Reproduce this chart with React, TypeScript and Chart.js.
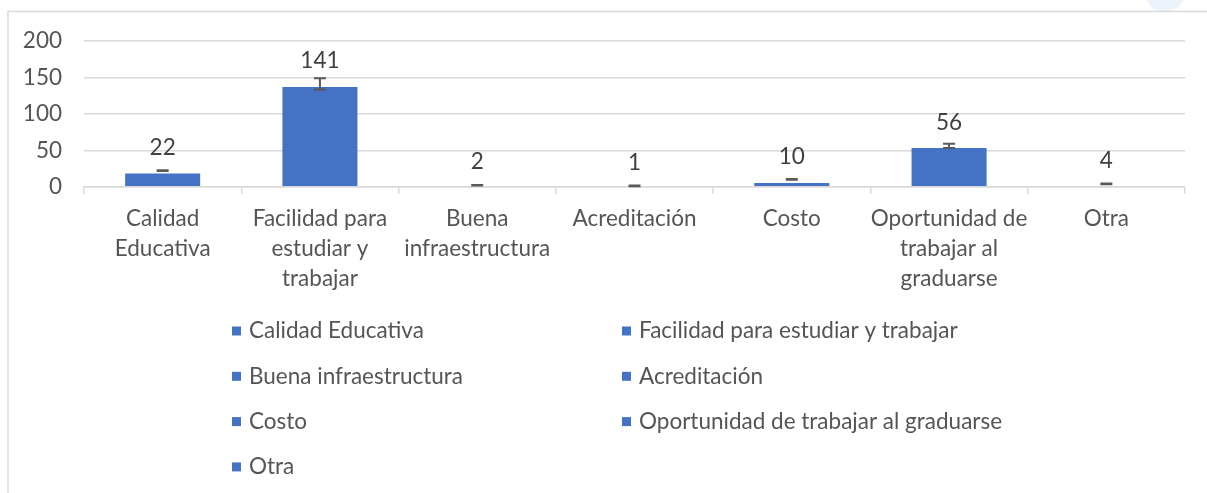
import React, { useEffect, useRef } from "react";
import { Chart, registerables } from "chart.js";

Chart.register(...registerables);

const categoryNames = [
  "Calidad Educativa",
  "Facilidad para estudiar y trabajar",
  "Buena infraestructura",
  "Acreditación",
  "Costo",
  "Oportunidad de trabajar al graduarse",
  "Otra",
];
const categoryLines = [
  ["Calidad", "Educativa"],
  ["Facilidad para", "estudiar y", "trabajar"],
  ["Buena", "infraestructura"],
  ["Acreditación"],
  ["Costo"],
  ["Oportunidad de", "trabajar al", "graduarse"],
  ["Otra"],
];
const barValues = [18, 137, 0, 0, 5, 53, 0];
const labelValues = [22, 141, 2, 1, 10, 56, 4];
const errorValues = [0.5, 8, 0.5, 0.5, 0.5, 3, 0.5];
const yTicks = [0, 50, 100, 150, 200];

const FONT = "Lato";
const FS = 22.5;
const BLUE = "#4472c4";
const GRID = "#d9d9d9";
const TXT = "#555555";

export default function App() {
  const ref = useRef<HTMLCanvasElement | null>(null);
  useEffect(() => {
    const canvas = ref.current!;
    const framePlugin = {
      id: "frame",
      beforeDraw(chart: any) {
        const ctx = chart.ctx;
        ctx.save();
        ctx.fillStyle = "#ffffff";
        ctx.fillRect(0, 0, chart.width, chart.height);
        ctx.fillStyle = "#edf3fb";
        ctx.beginPath();
        ctx.arc(1165, -8, 20, 0, Math.PI * 2);
        ctx.fill();
        ctx.strokeStyle = GRID;
        ctx.lineWidth = 1.5;
        ctx.beginPath();
        ctx.moveTo(8, chart.height);
        ctx.lineTo(8, 11.5);
        ctx.lineTo(chart.width, 11.5);
        ctx.stroke();
        ctx.restore();
      },
    };
    const extrasPlugin = {
      id: "extras",
      afterDatasetsDraw(chart: any) {
        const ctx = chart.ctx;
        const y = chart.scales.y;
        const meta = chart.getDatasetMeta(0);
        ctx.save();
        ctx.strokeStyle = "#595959";
        ctx.lineWidth = 2;
        labelValues.forEach((v, i) => {
          const x = meta.data[i].x;
          const yt = y.getPixelForValue(v + errorValues[i]);
          const yb = y.getPixelForValue(v - errorValues[i]);
          ctx.beginPath();
          ctx.moveTo(x, yt);
          ctx.lineTo(x, yb);
          ctx.moveTo(x - 6, yt);
          ctx.lineTo(x + 6, yt);
          ctx.moveTo(x - 6, yb);
          ctx.lineTo(x + 6, yb);
          ctx.stroke();
        });
        ctx.fillStyle = "#404040";
        ctx.font = `${FS}px ${FONT}`;
        ctx.textAlign = "center";
        ctx.textBaseline = "middle";
        labelValues.forEach((v, i) => {
          const x = meta.data[i].x;
          ctx.fillText(String(v), x, y.getPixelForValue(v) - 23);
        });
        ctx.restore();
      },
      afterDraw(chart: any) {
        const ctx = chart.ctx;
        ctx.save();
        ctx.font = `${FS}px ${FONT}`;
        ctx.textBaseline = "middle";
        ctx.textAlign = "left";
        const colX = [249, 639];
        categoryNames.forEach((name, i) => {
          const col = i % 2;
          const row = Math.floor(i / 2);
          const cy = 331 + row * 45.3;
          ctx.fillStyle = BLUE;
          ctx.fillRect(colX[col] - 17, cy - 4.5, 9, 9);
          ctx.fillStyle = TXT;
          ctx.fillText(name, colX[col], cy);
        });
        ctx.restore();
      },
    };
    const chart = new Chart(canvas, {
      type: "bar",
      data: {
        labels: categoryLines,
        datasets: [
          {
            data: barValues,
            backgroundColor: BLUE,
            borderWidth: 0,
            categoryPercentage: 1,
            barPercentage: 0.477,
          },
        ],
      },
      options: {
        responsive: false,
        animation: false,
        devicePixelRatio: 1,
        layout: { padding: { left: 0, right: 22, top: 41, bottom: 0 } },
        plugins: { legend: { display: false }, tooltip: { enabled: false } },
        scales: {
          x: {
            offset: true,
            grid: {
              offset: true,
              drawOnChartArea: false,
              drawTicks: true,
              tickLength: 7,
              color: GRID,
              lineWidth: 1.5,
            },
            border: { display: true, color: GRID, width: 1.5 },
            ticks: {
              color: TXT,
              font: { family: FONT, size: FS, lineHeight: 30 / FS },
              padding: 10,
              maxRotation: 0,
              autoSkip: false,
            },
            afterFit(scale: any) {
              scale.height = 493 - 186.7;
            },
          },
          y: {
            min: 0,
            max: 200,
            afterBuildTicks(scale: any) {
              scale.ticks = yTicks.map((v) => ({ value: v }));
            },
            grid: { color: GRID, lineWidth: 1.5, drawTicks: false },
            border: { display: false },
            ticks: {
              color: TXT,
              font: { family: FONT, size: FS },
              padding: 22,
            },
            afterFit(scale: any) {
              scale.width = 84;
            },
          },
        },
      },
      plugins: [framePlugin, extrasPlugin],
    });
    return () => chart.destroy();
  }, []);
  return (
    <div
      style={{
        position: "fixed",
        left: 0,
        top: 0,
        width: 1207,
        height: 493,
        background: "#fff",
      }}
    >
      <canvas ref={ref} width={1207} height={493} style={{ display: "block" }} />
    </div>
  );
}
